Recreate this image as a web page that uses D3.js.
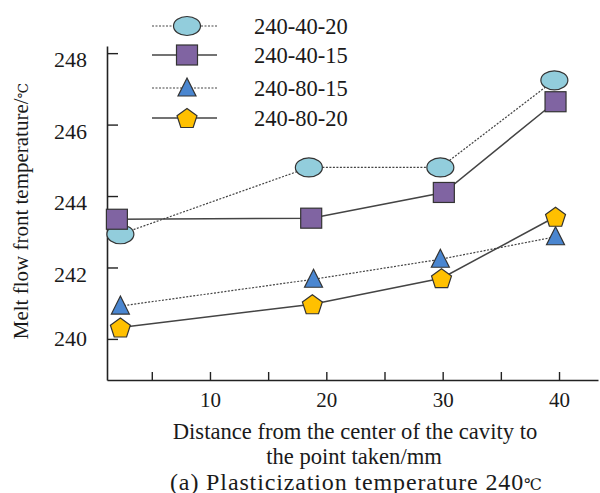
<!DOCTYPE html>
<html><head><meta charset="utf-8">
<script src="https://cdn.jsdelivr.net/npm/d3@7"></script>
<style>body{margin:0;background:#fff}svg{display:block}</style>
</head><body>
<script>
const seriesNames = ["240-40-20","240-40-15","240-80-15","240-80-20"];
const x4020 = [2.3, 18.5, 29.8, 39.6];
const y4020 = [242.93, 244.80, 244.80, 247.24];
const x4015 = [2.0, 18.7, 30.1, 39.7];
const y4015 = [243.35, 243.38, 244.10, 246.64];
const x8015 = [2.3, 18.9, 29.8, 39.7];
const y8015 = [240.92, 241.67, 242.23, 242.86];
const x8020 = [2.3, 18.8, 29.9, 39.7];
const y8020 = [240.32, 240.97, 241.70, 243.42];
const xTicks = [5,10,15,20,25,30,35,40];
const xTickLabels = ["","10","","20","","30","","40"];
const yTicks = [240,242,244,246,248];
const yTickLabels = ["240","242","244","246","248"];

const FONT = "'Liberation Serif','DejaVu Serif','Noto Serif','Times New Roman',serif";
const INK = "#1a1a1a";
const W=600,H=493;
const svg=d3.select("body").append("svg").attr("width",W).attr("height",H).style("font-family",FONT);
const x=d3.scaleLinear().domain([1.15,43.35]).range([107,598]);
const y=d3.scaleLinear().domain([238.85,248.2]).range([380,46]);

const series=[
 {name:seriesNames[0],xs:x4020,ys:y4020,shape:"ellipse",fill:"#92CDDC",dash:"2,1.5"},
 {name:seriesNames[1],xs:x4015,ys:y4015,shape:"square",fill:"#8064A2",dash:null},
 {name:seriesNames[2],xs:x8015,ys:y8015,shape:"triangle",fill:"#4A86D0",dash:"2,1.5"},
 {name:seriesNames[3],xs:x8020,ys:y8020,shape:"pentagon",fill:"#FFC000",dash:null}
];

const xAxis=d3.axisBottom(x).tickValues(xTicks).tickSize(-8).tickSizeOuter(0).tickFormat((d,i)=>xTickLabels[i]).tickPadding(12);
const gx=svg.append("g").attr("transform","translate(0,380)").call(xAxis);
const yAxis=d3.axisLeft(y).tickValues(yTicks).tickSize(-11).tickSizeOuter(0).tickFormat((d,i)=>yTickLabels[i]).tickPadding(20);
const gy=svg.append("g").attr("transform","translate(107,0)").call(yAxis);
[gx,gy].forEach(g=>{g.attr("font-family",null).style("font-family",FONT);
 g.select(".domain").attr("stroke","#222").attr("stroke-width",1.6);
 g.selectAll(".tick line").attr("stroke","#222").attr("stroke-width",1.4);
 g.selectAll(".tick text").style("font-family",FONT).attr("font-size",21).attr("fill",INK);});
gy.selectAll(".tick text").attr("font-size",22).attr("dy",d=>d===yTicks[0]?"0.32em":"0.62em");

function marker(g,shape,fill,cx,cy){
 let el;
 if(shape==="ellipse"){el=g.append("ellipse").attr("cx",cx).attr("cy",cy).attr("rx",13.5).attr("ry",9.5);}
 else if(shape==="square"){el=g.append("rect").attr("x",cx-10.5).attr("y",cy-10).attr("width",21).attr("height",20);}
 else if(shape==="triangle"){el=g.append("path").attr("d",`M${cx},${cy-10}L${cx+9},${cy+8}L${cx-9},${cy+8}Z`);}
 else {const r=10.5;const pts=d3.range(5).map(i=>{const a=-Math.PI/2+i*2*Math.PI/5;return [cx+r*Math.cos(a),cy+r*Math.sin(a)+1];});
   el=g.append("path").attr("d","M"+pts.map(p=>p.join(",")).join("L")+"Z");}
 el.attr("stroke","#333").attr("stroke-width",1.2).attr("fill",fill);
}

const line=d3.line();
series.forEach(s=>{
 const pts=s.xs.map((v,i)=>[x(v),y(s.ys[i])]);
 const p=svg.append("path").attr("d",line(pts)).attr("fill","none").attr("stroke","#444").attr("stroke-width",s.dash?1.2:1.5);
 if(s.dash)p.attr("stroke-dasharray",s.dash);
});
series.forEach(s=>{
 const g=svg.append("g");
 s.xs.forEach((v,i)=>marker(g,s.shape,s.fill,x(v),y(s.ys[i])));
});

const legY=[26,55,88,118];
series.forEach((s,i)=>{
 const g=svg.append("g");
 const l=g.append("line").attr("x1",152).attr("x2",217).attr("y1",legY[i]).attr("y2",legY[i]).attr("stroke","#444").attr("stroke-width",s.dash?1.2:1.5);
 if(s.dash)l.attr("stroke-dasharray",s.dash);
 marker(g,s.shape,s.fill,187,legY[i]);
 g.append("text").attr("x",254).attr("y",legY[i]).attr("dy","0.35em").attr("font-size",22.5).attr("fill",INK).text(s.name);
});

svg.append("text").attr("x",355).attr("y",439).attr("text-anchor","middle").attr("font-size",22.6).attr("fill",INK).text("Distance from the center of the cavity to");
svg.append("text").attr("x",354).attr("y",463.5).attr("text-anchor","middle").attr("font-size",22.6).attr("fill",INK).text("the point taken/mm");
const cap=svg.append("text").attr("x",170).attr("y",489.5).attr("font-size",24).attr("fill",INK)
  .attr("textLength",372).attr("lengthAdjust","spacing");
cap.append("tspan").text("(a) Plasticization temperature 240");
cap.append("tspan").attr("font-size",16).text("℃");
const yl=svg.append("text").attr("transform","translate(28,211) rotate(-90)").attr("text-anchor","middle").attr("font-size",21).attr("fill",INK);
yl.append("tspan").text("Melt flow front temperature/");
yl.append("tspan").attr("font-size",14).text("℃");
</script>
</body></html>
